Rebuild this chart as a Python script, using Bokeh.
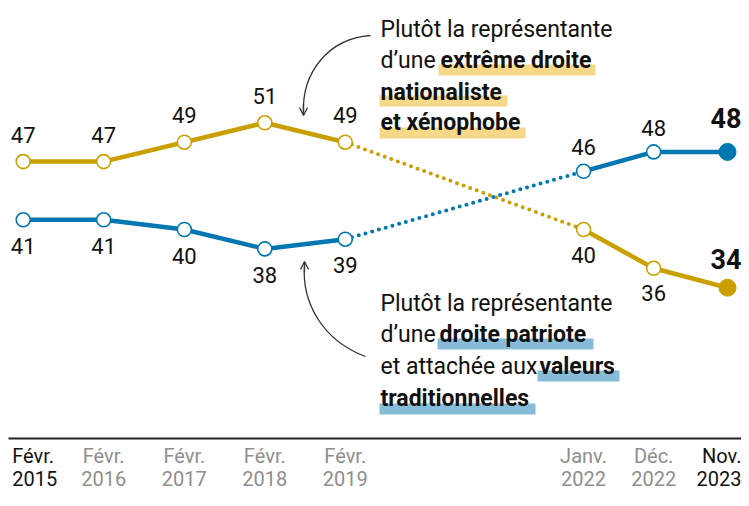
import pandas as pd
from bokeh.plotting import figure
from bokeh.models import Range1d, Label, Arrow, OpenHead
from bokeh.core.properties import value
from bokeh.embed import file_html
from bokeh.resources import INLINE

# ---------------- data ----------------
dates = ["2015-02-15", "2016-02-15", "2017-02-15", "2018-02-15", "2019-02-15",
         "2022-01-31", "2022-12-15", "2023-11-15"]
tick_month = ["Févr.", "Févr.", "Févr.", "Févr.", "Févr.", "Janv.", "Déc.", "Nov."]
tick_year = ["2015", "2016", "2017", "2018", "2019", "2022", "2022", "2023"]
extreme = [47, 47, 49, 51, 49, 40, 36, 34]     # extrême droite nationaliste et xénophobe
patriote = [41, 41, 40, 38, 39, 46, 48, 48]    # droite patriote, valeurs traditionnelles

YEL = "#C9A000"
BLU = "#0077B0"
YEL_HL = "#F6D888"
BLU_HL = "#86BCD8"
INK = "#111111"
GREY = "#8E8E8E"
FONT = "Roboto"

W, H = 741, 490
x = pd.to_datetime(dates)
t0 = x[0].value / 1e6
t_last = x[-1].value / 1e6
px_first, px_last = 22.7, 727.0
ppms = (px_last - px_first) / (t_last - t0)
x_start = t0 - px_first / ppms
x_end = x_start + W / ppms
ppv = 9.7
y_top = 617 / ppv
y_bot = y_top - H / ppv

def dx(px):  # pixel x -> data x
    return x_start + px / ppms

def dy(py):  # pixel y (from top) -> data y
    return y_top - py / ppv

p = figure(width=W, height=H, output_backend="svg", toolbar_location=None,
           x_range=Range1d(x_start, x_end), y_range=Range1d(y_bot, y_top),
           x_axis_type="datetime", min_border=0, outline_line_color=None,
           background_fill_color="white", border_fill_color="white")
p.axis.visible = False
p.grid.visible = False

# ---------------- highlight bands ----------------
def hl(x0, x1, base, col):
    p.quad(left=[dx(x0)], right=[dx(x1)], top=[dy(base - 4)], bottom=[dy(base + 7)],
           fill_color=col, line_color=None, level="underlay")

hl(438, 595, 68, YEL_HL)
hl(379, 507, 99, YEL_HL)
hl(379, 525, 131, YEL_HL)
hl(437, 593, 342, BLU_HL)
hl(537, 619, 374, BLU_HL)
hl(379, 535, 407, BLU_HL)

# ---------------- lines ----------------
xs = list(x)
for vals, col in ((extreme, YEL), (patriote, BLU)):
    p.line(xs[:5], vals[:5], line_color=col, line_width=4.5, line_join="round")
    p.line(xs[4:6], vals[4:6], line_color=col, line_width=4, line_dash="0 7", line_cap="round")
    p.line(xs[5:], vals[5:], line_color=col, line_width=4.5, line_join="round")
    p.scatter(xs[:-1], vals[:-1], size=14, fill_color="white", line_color=col, line_width=1.6)
    p.scatter(xs[-1:], vals[-1:], size=17, fill_color=col, line_color=col)

# ---------------- value labels (text centred vertically) ----------------
def lab(xv, yv, txt, yoff, bold=False, size="22px", align="center", xoff=0):
    p.text(x=[xv], y=[yv], text=[txt], text_align=align, text_baseline="middle",
           y_offset=yoff, x_offset=xoff, text_font=value(FONT), text_font_size=size,
           text_font_style="bold" if bold else "normal", text_color=INK)

for i in range(7):
    lab(xs[i], extreme[i], str(extreme[i]), -27 if i < 5 else 25)
    lab(xs[i], patriote[i], str(patriote[i]), 26 if i < 5 else -24)
lab(xs[7], patriote[7], str(patriote[7]), -34, bold=True, size="27px", align="right", xoff=14)
lab(xs[7], extreme[7], str(extreme[7]), -29, bold=True, size="27px", align="right", xoff=14)

# ---------------- baseline + tick labels ----------------
p.segment(x0=[dx(8)], y0=[dy(438)], x1=[dx(741)], y1=[dy(438)], line_color="#222222", line_width=2)
for i in range(len(xs)):
    col = INK if i in (0, len(xs) - 1) else GREY
    align, xo = "center", 0
    if i == 0:
        align, xo = "left", -11
    if i == len(xs) - 1:
        align, xo = "right", 14
    p.text(x=[xs[i]], y=[dy(455)], text=[tick_month[i]], text_align=align,
           text_baseline="middle", x_offset=xo, text_font=value(FONT),
           text_font_size="20px", text_color=col)
    p.text(x=[xs[i]], y=[dy(478)], text=[tick_year[i]], text_align=align,
           text_baseline="middle", x_offset=xo, text_font=value(FONT),
           text_font_size="20px", text_color=col)

# ---------------- annotations ----------------
def txt(px, mid, s, bold=False):
    p.add_layout(Label(x=dx(px), y=dy(mid), text=s, text_font=FONT, text_font_size="23px",
                       text_font_style="bold" if bold else "normal", text_color=INK,
                       text_baseline="middle", text_align="left"))

txt(380, 29, "Plutôt la représentante")
txt(380, 60, "d’une")
txt(440, 60, "extrême droite", bold=True)
txt(380, 92, "nationaliste", bold=True)
txt(380, 122, "et xénophobe", bold=True)

txt(380, 303, "Plutôt la représentante")
txt(380, 334, "d’une")
txt(439, 334, "droite patriote", bold=True)
txt(380, 366, "et attachée aux")
txt(539, 366, "valeurs", bold=True)
txt(380, 398, "traditionnelles", bold=True)

# curved arrows
AC = "#333333"
p.bezier(x0=[dx(370)], y0=[dy(35)], x1=[dx(303)], y1=[dy(113)],
         cx0=[dx(328)], cy0=[dy(38)], cx1=[dx(301)], cy1=[dy(72)],
         line_color=AC, line_width=1.3)
p.add_layout(Arrow(x_start=dx(303), y_start=dy(104), x_end=dx(303), y_end=dy(115),
                   line_color=AC, line_width=1.3,
                   end=OpenHead(size=8, line_color=AC, line_width=1.3)))
p.bezier(x0=[dx(365)], y0=[dy(356)], x1=[dx(304)], y1=[dy(264)],
         cx0=[dx(322)], cy0=[dy(340)], cx1=[dx(301)], cy1=[dy(302)],
         line_color=AC, line_width=1.3)
p.add_layout(Arrow(x_start=dx(304), y_start=dy(272), x_end=dx(304), y_end=dy(261),
                   line_color=AC, line_width=1.3,
                   end=OpenHead(size=8, line_color=AC, line_width=1.3)))

open("out.html", "w").write(file_html(p, INLINE))
